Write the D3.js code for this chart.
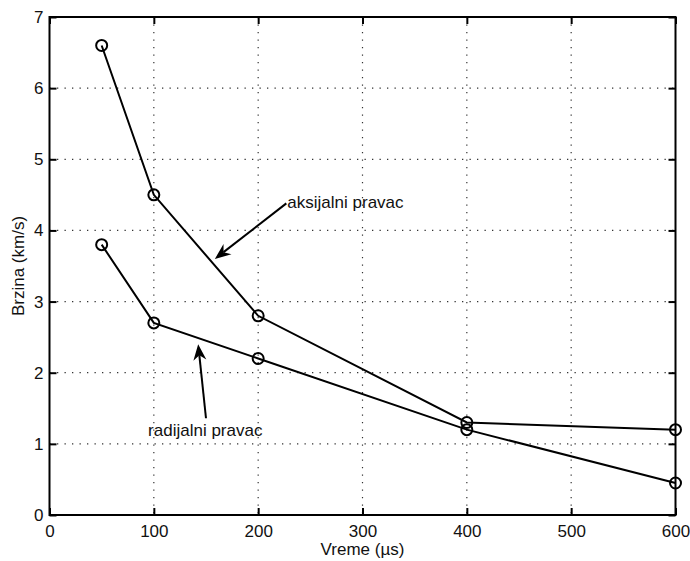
<!DOCTYPE html>
<html>
<head>
<meta charset="utf-8">
<script src="https://cdn.jsdelivr.net/npm/d3@7"></script>
<style>
  body { margin: 0; background: #fff; }
  text { font-family: "Liberation Sans", Arial, sans-serif; fill: #111; }
</style>
</head>
<body>
<div id="graphic"></div>
<script>
(function() {

// data
var vreme = [50, 100, 200, 400, 600];
var aksijalni = [6.6, 4.5, 2.8, 1.3, 1.2];
var radijalni = [3.8, 2.7, 2.2, 1.2, 0.45];
var xTicks = [0, 100, 200, 300, 400, 500, 600];
var yTicks = [0, 1, 2, 3, 4, 5, 6, 7];

// annotations: text position, arrow tail (x1,y1) and head (x2,y2) in data units
var labelAks = {text: 'aksijalni pravac', tx: 227, ty: 4.4, x1: 227, y1: 4.38, x2: 158.5, y2: 3.6};
var labelRad = {text: 'radijalni pravac', tx: 94.5, ty: 1.2, x1: 150, y1: 1.36, x2: 142.5, y2: 2.4};

var W = 690, H = 561;
var margin = {top: 17, right: 14.5, bottom: 46, left: 49.5},
    width = W - margin.left - margin.right,
    height = H - margin.top - margin.bottom;

var x = d3.scaleLinear().domain([0, 600]).range([0, width]);
var y = d3.scaleLinear().domain([0, 7]).range([height, 0]);

var svg = d3.select('#graphic').append('svg')
    .attr('width', W)
    .attr('height', H)
  .append('g')
    .attr('transform', 'translate(' + margin.left + ',' + margin.top + ')');

// grid (dotted)
svg.append('g').selectAll('line')
    .data(xTicks.slice(1, -1))
  .enter().append('line')
    .attr('x1', function(d) { return x(d); })
    .attr('x2', function(d) { return x(d); })
    .attr('y1', 0).attr('y2', height)
    .attr('stroke', '#333').attr('stroke-width', 1.2)
    .attr('stroke-dasharray', '1.3,6.2');

svg.append('g').selectAll('line')
    .data(yTicks.slice(1, -1))
  .enter().append('line')
    .attr('y1', function(d) { return y(d); })
    .attr('y2', function(d) { return y(d); })
    .attr('x1', 0).attr('x2', width)
    .attr('stroke', '#333').attr('stroke-width', 1.2)
    .attr('stroke-dasharray', '1.3,6.2');

// axes, ticks pointing inward on all four sides
function styleAxis(g) {
  g.select('.domain').remove();
  g.selectAll('.tick line').attr('stroke', '#000').attr('stroke-width', 2);
  g.selectAll('.tick text').style('font-size', '17px').attr('fill', '#111')
    .style('font-family', '"Liberation Sans", Arial, sans-serif');
}

var fmt = d3.format('d');

svg.append('g')
    .attr('transform', 'translate(0,' + height + ')')
    .call(d3.axisBottom(x).tickValues(xTicks).tickSize(-7).tickPadding(10).tickFormat(fmt))
    .call(styleAxis);

svg.append('g')
    .call(d3.axisTop(x).tickValues(xTicks).tickSize(-7).tickFormat(''))
    .call(styleAxis);

svg.append('g')
    .call(d3.axisLeft(y).tickValues(yTicks).tickSize(-7).tickPadding(6).tickFormat(fmt))
    .call(styleAxis);

svg.append('g')
    .attr('transform', 'translate(' + width + ',0)')
    .call(d3.axisRight(y).tickValues(yTicks).tickSize(-7).tickFormat(''))
    .call(styleAxis);

// box
svg.append('rect')
    .attr('x', 0).attr('y', 0)
    .attr('width', width).attr('height', height)
    .attr('fill', 'none').attr('stroke', '#000').attr('stroke-width', 2);

// axis labels
svg.append('text')
    .attr('x', width / 2)
    .attr('y', height + 40)
    .style('text-anchor', 'middle')
    .style('font-size', '17px')
    .text('Vreme (\u00b5s)');

svg.append('text')
    .attr('transform', 'rotate(-90)')
    .attr('x', -height / 2)
    .attr('y', -margin.left + 24)
    .style('text-anchor', 'middle')
    .style('font-size', '17px')
    .text('Brzina (km/s)');

// lines + circle markers
var line = d3.line()
    .x(function(d, i) { return x(vreme[i]); })
    .y(function(d) { return y(d); });

[aksijalni, radijalni].forEach(function(series) {
  svg.append('path')
      .datum(series)
      .attr('fill', 'none')
      .attr('stroke', '#000')
      .attr('stroke-width', 2)
      .attr('d', line);

  svg.append('g').selectAll('circle')
      .data(series)
    .enter().append('circle')
      .attr('cx', function(d, i) { return x(vreme[i]); })
      .attr('cy', function(d) { return y(d); })
      .attr('r', 5.5)
      .attr('fill', 'none')
      .attr('stroke', '#000')
      .attr('stroke-width', 2);
});

// annotation arrows
function arrow(a) {
  var px1 = x(a.x1), py1 = y(a.y1), px2 = x(a.x2), py2 = y(a.y2);
  var ang = Math.atan2(py2 - py1, px2 - px1);
  var len = 16, half = 6.5, notch = 11;
  var ux = Math.cos(ang), uy = Math.sin(ang);
  var bx = px2 - ux * len, by = py2 - uy * len;
  var nx = px2 - ux * notch, ny = py2 - uy * notch;

  svg.append('line')
      .attr('x1', px1).attr('y1', py1)
      .attr('x2', nx).attr('y2', ny)
      .attr('stroke', '#000').attr('stroke-width', 2);

  svg.append('path')
      .attr('d', 'M' + px2 + ',' + py2 +
                 'L' + (bx - uy * half) + ',' + (by + ux * half) +
                 'L' + nx + ',' + ny +
                 'L' + (bx + uy * half) + ',' + (by - ux * half) + 'Z')
      .attr('fill', '#000');
}

arrow(labelAks);
arrow(labelRad);

svg.append('text')
    .attr('x', x(labelAks.tx) + 1)
    .attr('y', y(labelAks.ty))
    .attr('dy', '0.35em')
    .style('font-size', '17px')
    .text(labelAks.text);

svg.append('text')
    .attr('x', x(labelRad.tx))
    .attr('y', y(labelRad.ty))
    .attr('dy', '0.35em')
    .style('font-size', '17px')
    .text(labelRad.text);

})();
</script>
</body>
</html>
